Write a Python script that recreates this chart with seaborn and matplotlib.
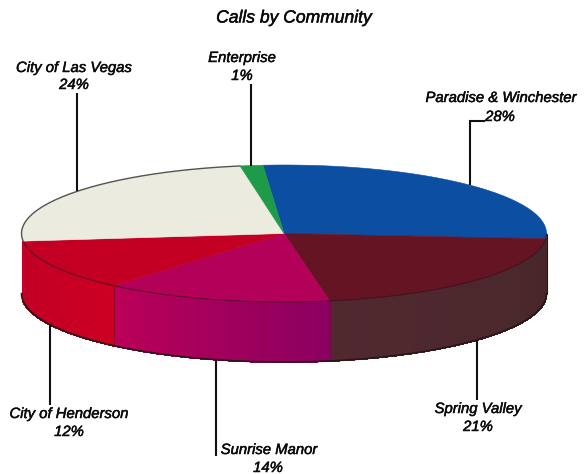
import numpy as np
import matplotlib
matplotlib.use("Agg")
import matplotlib.pyplot as plt
import matplotlib.patheffects as pe
from matplotlib.patches import Rectangle
import seaborn as sns

# --- data -----------------------------------------------------------------
title = "Calls by Community"
communities = ["Paradise & Winchester", "Spring Valley", "Sunrise Manor",
               "City of Henderson", "City of Las Vegas", "Enterprise"]
printed_pct = [28, 21, 14, 12, 24, 1]
slice_share = [27.5, 21.0, 14.0, 12.0, 24.1, 1.4]

# --- style ----------------------------------------------------------------
top_colors = ["#0B4EA2", "#651424", "#B30058", "#C30024", "#ECEBE0", "#1E9A48"]
wall_ramps = {"Spring Valley": ["#47272B", "#50292F"],
              "Sunrise Manor": ["#BB0058", "#8C0060"],
              "City of Henderson": ["#BE0026", "#CB0022"]}

# --- layout (pixels) ------------------------------------------------------
CX, CY, RX, RY, DEPTH = 284.0, 233.5, 262.5, 68.5, 60.0
START = 94.6
label_xy = {"Paradise & Winchester": (501, 98, 500, 117),
            "Spring Valley": (478, 409, 478, 427),
            "Sunrise Manor": (269, 450, 268, 468),
            "City of Henderson": (69, 414, 69, 432),
            "City of Las Vegas": (74, 68, 74, 85),
            "Enterprise": (242, 58, 242, 76)}
leaders = [([485, 470, 470], [121, 121, 185]),
           ([477, 477], [340, 400]),
           ([216, 216], [360, 456]),
           ([50, 50], [325, 405]),
           ([77, 77], [93, 191]),
           ([251, 251], [84, 166])]

sns.set_theme(style="white")
plt.rcParams["font.family"] = ["Liberation Sans", "DejaVu Sans"]

fig = plt.figure(figsize=(5.87, 4.74), dpi=100)
ax = fig.add_axes([0, 0, 1, 1])
ax.set_xlim(0, 587)
ax.set_ylim(474, 0)
ax.axis("off")
wall_clip = Rectangle((CX - RX, 0), 2 * RX, 474, transform=ax.transData)


def rim(t_deg, drop=0.0):
    t = np.radians(t_deg)
    return CX + RX * np.cos(t), CY - RY * np.sin(t) + drop


# slice boundaries, clockwise from the top
bounds = START - np.concatenate([[0], np.cumsum(slice_share)]) * 3.6

# side wall, from the data's angles, visible half only
wall_edges = []
for i, name in enumerate(communities):
    if name not in wall_ramps:
        continue
    hi, lo = bounds[i], bounds[i + 1]
    if name == "Spring Valley":
        hi = 0.0
    if name == "City of Henderson":
        lo = -180.0
    n = max(int(hi - lo), 2)
    ramp = sns.blend_palette(wall_ramps[name], n_colors=n)
    if name == "Spring Valley":
        ramp = ramp[::-1]
    steps = np.linspace(lo, hi, n + 1)
    for j in range(n):
        a = np.linspace(steps[j], steps[j + 1], 4)
        xt, yt = rim(a)
        xb, yb = rim(a, DEPTH)
        strip = ax.fill(np.r_[xt, xb[::-1]], np.r_[yt, yb[::-1]], facecolor=ramp[j],
                        edgecolor=ramp[j], lw=0.8, antialiased=False, zorder=1)[0]
        strip.set_clip_path(wall_clip)
    wall_edges.append(lo)

# dividers and outline of the wall
for a in wall_edges[:-1]:
    x0, y0 = rim(a)
    x1, y1 = rim(a, DEPTH)
    ax.plot([x0, x1], [y0, y1], color="#5A1530", lw=0.6, alpha=0.6, zorder=2)
xb, yb = rim(np.linspace(-180, 0, 361), DEPTH)
ax.plot(xb, yb, color="#2A1518", lw=1.2, zorder=3)
x_l, y_l = rim(np.array([0.0]))
ax.plot([x_l[0], x_l[0]], [y_l[0], y_l[0] + DEPTH], color="#2A1518", lw=0.8, zorder=3)

# top face
for i, color in enumerate(top_colors):
    a = np.linspace(bounds[i], bounds[i + 1], 120)
    x, y = rim(a)
    ax.fill(np.r_[CX, x], np.r_[CY, y], facecolor=color, edgecolor=color,
            lw=0.4, zorder=4)

# rim line along the front and the pale slice's outline
xf, yf = rim(np.linspace(-173, 0, 361))
ax.plot(xf, yf, color="#3A1020", lw=0.8, alpha=0.7, zorder=5)
xv, yv = rim(np.linspace(bounds[4], bounds[5], 180))
ax.plot(xv, yv, color="#55554F", lw=1.0, zorder=5)

# leaders
for xs, ys in leaders:
    ax.plot(xs, ys, color="#111111", lw=1.5, solid_capstyle="butt",
            solid_joinstyle="miter", zorder=6)

# text
bold = [pe.withStroke(linewidth=0.35, foreground="#0A0A0A")]
style = dict(fontstyle="italic", color="#0A0A0A", ha="center", va="center",
             path_effects=bold)
ax.text(294, 18, title, fontsize=12.6, **style)
for name, pct in zip(communities, printed_pct):
    xn, yn, xp, yp = label_xy[name]
    ax.text(xn, yn, name, fontsize=10.7, **style)
    ax.text(xp, yp, f"{pct}%", fontsize=10.7, **style)

fig.savefig("out.png", dpi=100)
